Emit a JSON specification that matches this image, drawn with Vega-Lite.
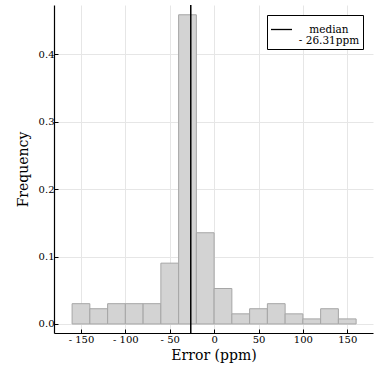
{
  "$schema": "https://vega.github.io/schema/vega-lite/v6.json",
  "width": 319,
  "height": 328,
  "autosize": "none",
  "padding": {"left": 54, "top": 5, "right": 6, "bottom": 40},
  "background": "white",
  "config": {
    "view": {"stroke": null},
    "font": "DejaVu Serif",
    "axis": {
      "domainColor": "black",
      "domainWidth": 1.2,
      "gridColor": "#e6e6e6",
      "gridWidth": 1,
      "tickColor": "black",
      "tickSize": -4,
      "labelFont": "DejaVu Serif",
      "labelFontSize": 10,
      "labelColor": "black",
      "titleFont": "DejaVu Serif",
      "titleFontSize": 14,
      "titleFontWeight": "normal",
      "titleColor": "black"
    }
  },
  "layer": [
    {
      "data": {
        "values": [
          {"bin_start": -160, "bin_end": -140, "freq": 0.0301},
          {"bin_start": -140, "bin_end": -120, "freq": 0.0226},
          {"bin_start": -120, "bin_end": -100, "freq": 0.0301},
          {"bin_start": -100, "bin_end": -80, "freq": 0.0301},
          {"bin_start": -80, "bin_end": -60, "freq": 0.0301},
          {"bin_start": -60, "bin_end": -40, "freq": 0.0902},
          {"bin_start": -40, "bin_end": -20, "freq": 0.4586},
          {"bin_start": -20, "bin_end": 0, "freq": 0.1353},
          {"bin_start": 0, "bin_end": 20, "freq": 0.0526},
          {"bin_start": 20, "bin_end": 40, "freq": 0.015},
          {"bin_start": 40, "bin_end": 60, "freq": 0.0226},
          {"bin_start": 60, "bin_end": 80, "freq": 0.0301},
          {"bin_start": 80, "bin_end": 100, "freq": 0.015},
          {"bin_start": 100, "bin_end": 120, "freq": 0.0075},
          {"bin_start": 120, "bin_end": 140, "freq": 0.0226},
          {"bin_start": 140, "bin_end": 160, "freq": 0.0075}
        ]
      },
      "mark": {"type": "rect", "fill": "#d3d3d3", "stroke": "#a6a6a6", "strokeWidth": 1},
      "encoding": {
        "x": {
          "field": "bin_start",
          "type": "quantitative",
          "scale": {"domain": [-180.4, 179], "nice": false, "zero": false},
          "axis": {
            "title": "Error (ppm)",
            "values": [-150, -100, -50, 0, 50, 100, 150],
            "labelExpr": "datum.value < 0 ? '- ' + abs(datum.value) : '' + datum.value",
            "labelPadding": 5,
            "titlePadding": 4,
            "grid": true
          }
        },
        "x2": {"field": "bin_end"},
        "y": {
          "field": "freq",
          "type": "quantitative",
          "scale": {"domain": [-0.0134, 0.4731], "nice": false, "zero": false},
          "axis": {
            "title": "Frequency",
            "values": [0, 0.1, 0.2, 0.3, 0.4],
            "format": ".1f",
            "labelPadding": 4,
            "titlePadding": 8,
            "grid": true
          }
        },
        "y2": {"datum": 0}
      }
    },
    {
      "data": {"values": [{"median": -26.31, "label": "median"}]},
      "mark": {"type": "rule", "strokeWidth": 1.5, "color": "black"},
      "encoding": {
        "x": {"field": "median", "type": "quantitative"}
      }
    },
    {
      "data": {"values": [{"median": -26.31, "freq": 0, "label": "median"}]},
      "mark": {"type": "line", "strokeWidth": 1.3},
      "encoding": {
        "x": {"field": "median", "type": "quantitative"},
        "y": {"field": "freq", "type": "quantitative"},
        "stroke": {
          "field": "label",
          "type": "nominal",
          "scale": {"range": ["black"]},
          "legend": {
            "title": null,
            "orient": "top-right",
            "offset": 10,
            "strokeColor": "black",
            "fillColor": "white",
            "padding": 3,
            "symbolType": "stroke",
            "symbolSize": 441,
            "symbolStrokeWidth": 1.3,
            "symbolStrokeColor": "black",
            "labelFont": "DejaVu Serif",
            "labelFontSize": 10.5,
            "labelColor": "black",
            "labelAlign": "center",
            "labelOffset": 36,
            "labelExpr": "['median', '- 26.31ppm']",
            "labelLimit": 200,
            "encode": {
              "labels": {"update": {"lineHeight": {"value": 11}}}
            }
          }
        }
      }
    }
  ]
}
